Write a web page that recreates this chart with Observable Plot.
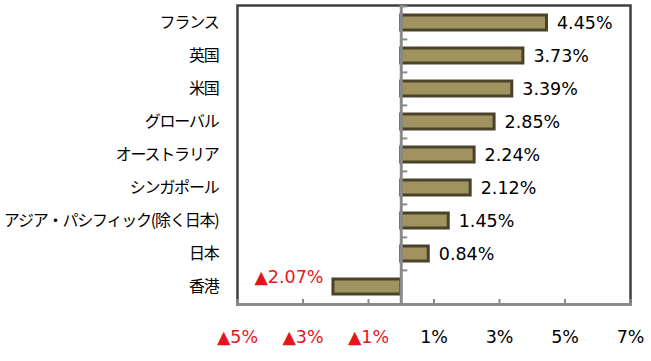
<!DOCTYPE html>
<html>
<head>
<meta charset="utf-8">
<script src="https://cdn.jsdelivr.net/npm/d3@7"></script>
<script src="https://cdn.jsdelivr.net/npm/@observablehq/plot@0.6"></script>
<style>
  html, body { margin: 0; padding: 0; background: #fff; }
  .ylab text { letter-spacing: -1.2px; }
</style>
</head>
<body>
<div id="chart"></div>
<script>
const categories = ["フランス", "英国", "米国", "グローバル", "オーストラリア", "シンガポール", "アジア・パシフィック(除く日本)", "日本", "香港"];
const values = [4.45, 3.73, 3.39, 2.85, 2.24, 2.12, 1.45, 0.84, -2.07];
const xTicks = [-5, -3, -1, 1, 3, 5, 7];

const data = categories.map((c, i) => ({category: c, value: values[i]}));

const W = 651, H = 361;
const mTop = 5, mBottom = 57, mLeft = 237, mRight = 21;
const step = (H - mTop - mBottom) / categories.length;

const red = "#e8141c";
const fmtTick = v => v < 0 ? "▲" + Math.abs(v) + "%" : v + "%";
const fmtVal = v => v < 0 ? "▲" + Math.abs(v).toFixed(2) + "%" : v.toFixed(2) + "%";

const chart = Plot.plot({
  width: W,
  height: H,
  marginTop: mTop,
  marginBottom: mBottom,
  marginLeft: mLeft,
  marginRight: mRight,
  style: {fontFamily: "'DejaVu Sans', sans-serif", background: "#fff"},
  x: {domain: [-5, 7], ticks: xTicks, label: null},
  y: {domain: categories, paddingInner: 0.56, paddingOuter: 0.28, label: null},
  marks: [
    Plot.frame({stroke: "#404040", strokeWidth: 2.5}),
    Plot.frame({anchor: "bottom", stroke: "#8a8a8a", strokeWidth: 3}),
    Plot.barX(data, {y: "category", x: "value", fill: "#a0935f", stroke: "#4a4229", strokeWidth: 3}),
    Plot.ruleX([0], {stroke: "#8a8a8a", strokeWidth: 3}),
    Plot.ruleY(categories, {y: d => d, x1: 0, x2: 0.2, dy: -step / 2, stroke: "#8a8a8a", strokeWidth: 2}),
    Plot.axisX({ticks: xTicks, tickSize: -5, stroke: "#8a8a8a", strokeWidth: 2, text: null}),
    Plot.axisX({ticks: xTicks, tickSize: 0, tickPadding: 26, tickFormat: fmtTick,
      fontSize: 17.5, fill: d => d < 0 ? red : "#000"}),
    Plot.axisY({tickSize: 0, tickPadding: 19, fontSize: 16, fill: "#000", className: "ylab",
      fontFamily: "'Noto Sans CJK JP', sans-serif"}),
    Plot.text(data.filter(d => d.value >= 0), {y: "category", x: "value", text: d => fmtVal(d.value),
      textAnchor: "start", dx: 10, fontSize: 17.5, fill: "#000"}),
    Plot.text(data.filter(d => d.value < 0), {y: "category", x: "value", text: d => fmtVal(d.value),
      textAnchor: "end", dx: -10, dy: -10, fontSize: 17.5, fill: red})
  ]
});
document.getElementById("chart").appendChild(chart);
</script>
</body>
</html>
